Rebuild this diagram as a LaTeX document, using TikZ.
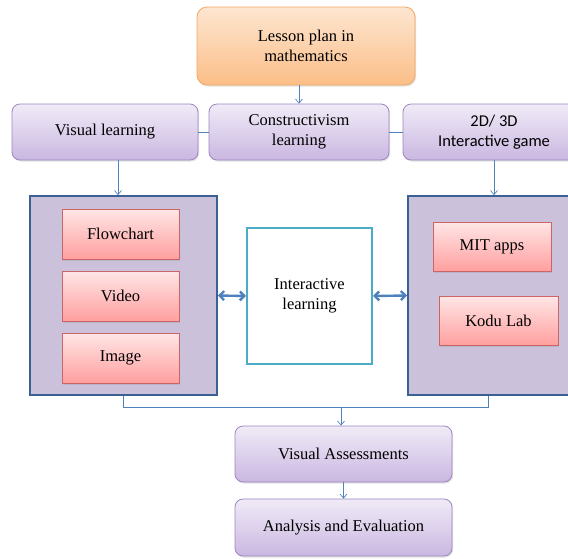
\documentclass[tikz,border=0pt]{standalone}
\usepackage{fontspec}
\setmainfont{Liberation Serif}
\newfontfamily\calib{Carlito}
\usetikzlibrary{arrows.meta,shadows,calc}
\definecolor{connc}{HTML}{4F81BD}
\definecolor{orT}{HTML}{FDE6D0}
\definecolor{orB}{HTML}{FBBE88}
\definecolor{orD}{HTML}{F2A762}
\definecolor{puT}{HTML}{F0EBF7}
\definecolor{puB}{HTML}{CAB7E1}
\definecolor{puD}{HTML}{9C86C0}
\definecolor{piT}{HTML}{FFE6E6}
\definecolor{piB}{HTML}{FF9F9F}
\definecolor{piD}{HTML}{CC6666}
\definecolor{contF}{HTML}{CCC1DA}
\definecolor{contD}{HTML}{3B6194}
\definecolor{cyanD}{HTML}{4BACC6}
\newcommand{\msize}{\fontsize{16.5}{20}\selectfont}
\begin{document}
\begin{tikzpicture}[x=1pt,y=-1pt,
  shad/.style={drop shadow={shadow xshift=1.2pt,shadow yshift=-1.5pt,opacity=0.25,fill=black!45}},
  orbox/.style={rectangle,rounded corners=10pt,draw=orD,line width=0.8pt,top color=orT,bottom color=orB,shad,align=center,font=\msize,inner sep=0pt},
  pubox/.style={rectangle,rounded corners=8pt,draw=puD,line width=0.8pt,top color=puT,bottom color=puB,shad,align=center,font=\msize,inner sep=0pt},
  pibox/.style={rectangle,draw=piD,line width=0.8pt,top color=piT,bottom color=piB,shad,align=center,font=\msize,inner sep=0pt,minimum height=49pt},
  contbox/.style={rectangle,draw=contD,line width=1.8pt,fill=contF,inner sep=0pt},
  intbox/.style={rectangle,draw=cyanD,line width=2pt,fill=white,align=center,font=\msize,inner sep=0pt},
  connline/.style={draw=connc,line width=0.7pt},
  conn/.style={connline,-{Straight Barb[length=4pt,width=7pt]}},
  dbl/.style={draw=connc,line width=2.4pt,{Straight Barb[length=4.5pt,width=9pt]}-{Straight Barb[length=4.5pt,width=9pt]}}
]
\useasboundingbox (0,0) rectangle (568,558);
\clip (0,0) rectangle (568,558);

% top
\node[orbox,minimum width=218pt,minimum height=78pt] (top) at (306,46) {Lesson plan in\\mathematics};
% second row
\node[pubox,minimum width=186pt,minimum height=56pt] (vis) at (105,132) {Visual learning};
\node[pubox,minimum width=180pt,minimum height=56pt] (con) at (299,132) {Constructivism\\learning};
\node[pubox,minimum width=182pt,minimum height=56pt,font=\calib\msize] (game) at (494,132) {2D/ 3D\\Interactive game};

% containers
\node[contbox,minimum width=187pt,minimum height=199pt] (lc) at (123.5,295.5) {};
\node[contbox,minimum width=177pt,minimum height=199pt] (rc) at (496.5,295.5) {};

% inner boxes
\node[pibox,minimum width=117pt,minimum height=50pt] (flow) at (120.5,234) {Flowchart};
\node[pibox,minimum width=117pt,minimum height=50pt] (video) at (120.5,296) {Video};
\node[pibox,minimum width=117pt,minimum height=50pt] (img) at (120.5,358) {Image};
\node[pibox,minimum width=118pt] (mit) at (492,246.5) {MIT apps};
\node[pibox,minimum width=119pt] (kodu) at (498.5,320.5) {Kodu Lab};

% interactive
\node[intbox,minimum width=125pt,minimum height=136pt] (inter) at (309.5,296) {Interactive\\learning};

% bottom
\node[pubox,minimum width=217pt,minimum height=56pt] (va) at (343.5,454) {Visual Assessments};
\node[pubox,minimum width=217pt,minimum height=57pt] (ae) at (343.5,527.5) {Analysis and Evaluation};

% connectors
\draw[conn] (top.south -| con.north) -- (con.north);
\draw[connline] (vis.east) -- (con.west);
\draw[connline] (con.east) -- (game.west);
\coordinate (visout) at ($(vis.south)+(13,0)$);
\draw[conn] (visout) -- (visout |- lc.north);
\draw[conn] (game.south) -- (game.south |- rc.north);

\draw[dbl] (lc.east) -- (inter.west);
\draw[dbl] (inter.east) -- (rc.west);

\coordinate (rcout) at ($(rc.south)+(-8.5,0)$);
\coordinate (jy) at (0,407);
\draw[connline] (lc.south) -- (lc.south |- jy) -- (rcout |- jy) -- (rcout);
\coordinate (vaj) at ($(va.north)+(-2.5,0)$);
\draw[conn] (vaj |- jy) -- (vaj);
\draw[conn] (va.south) -- (ae.north);
\end{tikzpicture}
\end{document}
